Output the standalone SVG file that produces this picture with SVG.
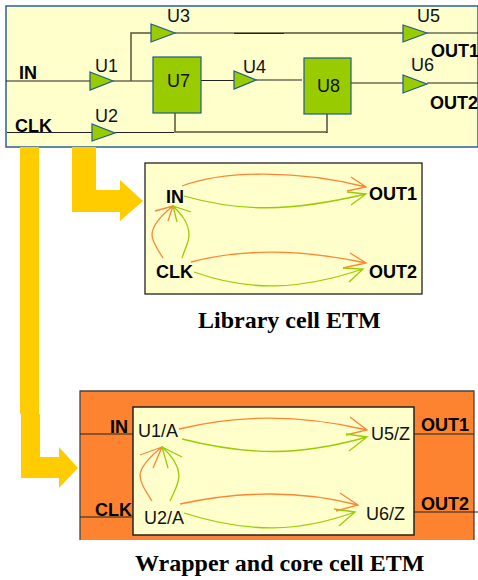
<svg xmlns="http://www.w3.org/2000/svg" width="478" height="580" viewBox="0 0 478 580">
<style>
.s{font-family:"Liberation Sans",Arial,sans-serif;font-size:18px;fill:#111}
.b{font-family:"Liberation Sans",Arial,sans-serif;font-size:18px;font-weight:bold;fill:#000}
.t{font-family:"Liberation Serif","Times New Roman",serif;font-size:24px;font-weight:bold;fill:#000}
.g{fill:#99cc00;stroke:#1f5a8c;stroke-width:1.2}
.w{fill:none;stroke:#222;stroke-width:1.2}
.m{fill:none;stroke:#55553a;stroke-width:1.500}
.o{fill:none;stroke:#ff8533;stroke-width:1.300}
.l{fill:none;stroke:#99cc00;stroke-width:1.300}
.y{fill:#ffcc00}
</style>
<rect x="6" y="6" width="472" height="141" fill="#ffffcc" stroke="#2f5f8f" stroke-width="1.500"/>
<g id="arrow-library"><path class="y" d="M72 147H96V190H120V180L143 201L120 221V212H72Z"/></g>
<g id="arrow-wrapper"><path class="y" d="M20 147H39V414H40V457H59V447L78 468L59 488V478H21V414H20Z"/></g>
<g id="library-cell">
<rect x="145" y="163" width="277" height="131" fill="#ffffcc" stroke="#222" stroke-width="1.300"/>
</g>
<g id="wrapper-cell">
<path d="M80 540V391H474V540Z" fill="#fd8330"/>
<path d="M80 540V391H474V540" fill="none" stroke="#444" stroke-width="1.300"/>
<rect x="133" y="407" width="281" height="128" fill="#ffffcc" stroke="#222" stroke-width="1.500"/>
</g>
<g id="connectors">
<path class="w" d="M6 81H90M113 81H153M175 33H234M427 33H478"/>
<path class="m" d="M131 81V33H151M234 33H403"/>
<path class="w" d="M234 33.500H284" stroke-width="1.500"/>
<path class="w" d="M7 132.500H92M115 132.500H174"/>
<path class="m" d="M175 113V132H326"/>
<path class="w" d="M326 132.500H327V111"/>
<path class="w" d="M199 80.500H234M256 80H302M350 83H403M427 83H478"/>
<path class="o" d="M182 186C225 170 300 170 366 187M351 177L366 187L347 191"/>
<path class="l" d="M184 196C240 212 290 212 366 194M347 192L366 194L351 205"/>
<path class="o" d="M191 262C240 249 300 249 366 263M350 253L366 263L343 268"/>
<path class="l" d="M194 272C250 292 300 290 363 269M343 268L363 269L349 282"/>
<path class="o" d="M163 258C155 246 152 240 152 235C152 225 163 214 173 206M155 211L173 206L168 221"/>
<path class="l" d="M182 258C185 248 189 243 189 235C189 222 180 213 173 206M191 212L173 206L177 222"/>
<path class="o" d="M179 429C240 414 300 414 367 430M350 417L367 430L346 435"/>
<path class="l" d="M182 439C250 456 300 456 367 437M346 434L367 437L349 451"/>
<path class="o" d="M180 504C240 491 300 490 358 505M340 493L358 505L336 511"/>
<path class="l" d="M184 513C250 534 300 532 355 512M334 509L355 512L339 526"/>
<path class="o" d="M152 501C145 490 140 483 140 475C141 465 152 455 162 447M140 455L162 447L153 468"/>
<path class="l" d="M170 501C175 490 179 484 179 475C178 463 169 453 162 447M182 457L162 447L168 468"/>
<path class="w" d="M80 434H133M80 517H133M414 434H474M414 512H478" stroke-width="1.500"/>
</g>
<g id="U1"><path class="g" d="M90 72L113 81L90 90Z"/><text class="s" x="95" y="72">U1</text></g>
<g id="U2"><path class="g" d="M92 124L115 133L92 141Z"/><text class="s" x="95" y="122">U2</text></g>
<g id="U3"><path class="g" d="M151 24L175 33L151 42Z"/><text class="s" x="167" y="22">U3</text></g>
<g id="U4"><path class="g" d="M234 71L256 80L234 89Z"/><text class="s" x="243" y="73">U4</text></g>
<g id="U5"><path class="g" d="M403 25L427 33L403 42Z"/><text class="s" x="417" y="22">U5</text></g>
<g id="U6"><path class="g" d="M403 75L427 84L403 93Z"/><text class="s" x="411" y="71">U6</text></g>
<g id="U7"><rect class="g" x="153" y="57" width="48" height="56"/><text class="s" x="167" y="87">U7</text></g>
<g id="U8"><rect class="g" x="304" y="58" width="47" height="56"/><text class="s" x="317" y="92">U8</text></g>
<g id="top-labels">
<text class="b" x="19" y="79">IN</text>
<text class="b" x="15" y="132">CLK</text>
<text class="b" x="431" y="57">OUT1</text>
<text class="b" x="430" y="109">OUT2</text>
</g>
<g id="library-labels">
<text class="b" x="166" y="203">IN</text>
<text class="b" x="156" y="278">CLK</text>
<text class="b" x="369" y="200">OUT1</text>
<text class="b" x="369" y="278">OUT2</text>
</g>
<text class="t" x="198" y="328">Library cell ETM</text>
<g id="wrapper-labels">
<text class="b" x="110" y="433">IN</text>
<text class="b" x="95" y="516">CLK</text>
<text class="b" x="421" y="431">OUT1</text>
<text class="b" x="421" y="510">OUT2</text>
<text class="s" x="138" y="437">U1/A</text>
<text class="s" x="144" y="524">U2/A</text>
<text class="s" x="371" y="440">U5/Z</text>
<text class="s" x="366" y="520">U6/Z</text>
</g>
<text class="t" x="135" y="571">Wrapper and core cell ETM</text>
</svg>
